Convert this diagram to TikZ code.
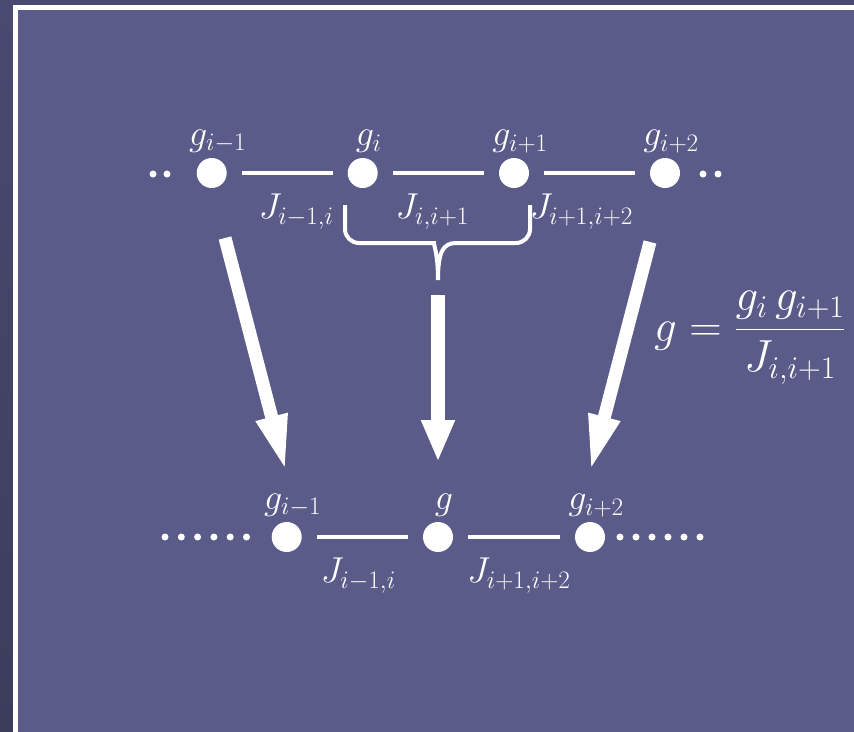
\documentclass[tikz,border=0pt]{standalone}
\usepackage{fix-cm}
\usepackage{amsmath}
\usetikzlibrary{arrows.meta, calc}
\definecolor{slidebg}{HTML}{5B5B89}
\definecolor{outertop}{HTML}{4A4A70}
\definecolor{outerbot}{HTML}{3C3C5B}

\begin{document}
\begin{tikzpicture}[x=1pt, y=-1pt,
    site/.style={circle, fill=white, minimum size=30pt, inner sep=0pt},
    pip/.style={circle, fill=white, minimum size=7pt, inner sep=0pt},
    bond/.style={white, line width=4.5pt, shorten <=15pt, shorten >=15pt},
    lab/.style={text=white, font=\fontsize{36}{43}\selectfont, inner sep=0pt},
    glab/.style={lab, anchor=south, xshift=6pt, yshift=5pt},
    jlab/.style={lab, anchor=north, yshift=-19pt},
    fat/.style={white, line width=13pt, -{Triangle[length=57pt, width=29pt]}}]

    \useasboundingbox (0,0) rectangle (854,731);
    \shade[top color=outertop, bottom color=outerbot] (0,0) rectangle (854,731);
    \fill[slidebg] (18,10) rectangle (860,740);
    \draw[white, line width=5pt] (15.5,740) -- (15.5,7.5) -- (860,7.5);

    \node (a1) [site] at (211.7,173) {};
    \node (a2) [site] at (362.7,173) {};
    \node (a3) [site] at (514,173) {};
    \node (a4) [site] at (665,173) {};

    \foreach \x [count=\k] in {153,167} \node (lp\k) [pip] at (\x,174) {};
    \foreach \x [count=\k] in {703,718} \node (rp\k) [pip] at (\x,174) {};

    \node (ga1) [glab] at (a1.north) {$g_{i-1}$};
    \node (ga2) [glab] at (a2.north) {$g_{i}$};
    \node (ga3) [glab] at (a3.north) {$g_{i+1}$};
    \node (ga4) [glab] at (a4.north) {$g_{i+2}$};

    \draw[bond] (a1) -- node (ja1) [jlab, xshift=9pt] {$J_{i-1,i}$} (a2);
    \draw[bond] (a2) -- node (ja2) [jlab, xshift=-6pt] {$J_{i,i+1}$} (a3);
    \draw[bond] (a3) -- node (ja3) [jlab, xshift=-8pt] {$J_{i+1,i+2}$} (a4);

    % bracket under the middle bond
    \draw[white, line width=4pt] (345,205) [rounded corners=14pt] -- (345,243) -- (420,243)
        [sharp corners] .. controls (433,243) and (438,252) .. (438,280)
        .. controls (438,252) and (443,243) .. (456,243)
        [rounded corners=14pt] -- (530,243) -- (530,205);

    \node (b1) [site] at (286.7,537) {};
    \node (b2) [site] at (438,537) {};
    \node (b3) [site] at (590,537) {};

    \foreach \x [count=\k] in {165,181.3,197.6,213.9,230.2,246.5} \node (lq\k) [pip] at (\x,537) {};
    \foreach \x [count=\k] in {620,636,652,668,684,700} \node (rq\k) [pip] at (\x,537) {};

    \node (gb1) [glab] at (b1.north) {$g_{i-1}$};
    \node (gb2) [glab] at (b2.north) {$g$};
    \node (gb3) [glab] at (b3.north) {$g_{i+2}$};

    \draw[bond] (b1) -- node (jb1) [jlab, xshift=-4pt] {$J_{i-1,i}$} (b2);
    \draw[bond] (b2) -- node (jb2) [jlab, xshift=5pt] {$J_{i+1,i+2}$} (b3);

    \coordinate (s1) at (225,238);
    \coordinate (e1) at (286,472);
    \coordinate (s2) at (438,295);
    \coordinate (e2) at (438,462);
    \coordinate (s3) at (650,242);
    \coordinate (e3) at (590,472);
    \draw[fat] (s1) -- (e1);
    \draw[white, line width=14pt, -{Triangle[length=42pt, width=31pt]}] (s2) -- (e2);
    \draw[fat] (s3) -- (e3);

    \node (rule) [lab, font=\fontsize{45}{54}\selectfont, anchor=base west] at (654,341)
        {$g=\dfrac{g_{i}\,g_{i+1}}{J_{i,i+1}}$};

\end{tikzpicture}
\end{document}
